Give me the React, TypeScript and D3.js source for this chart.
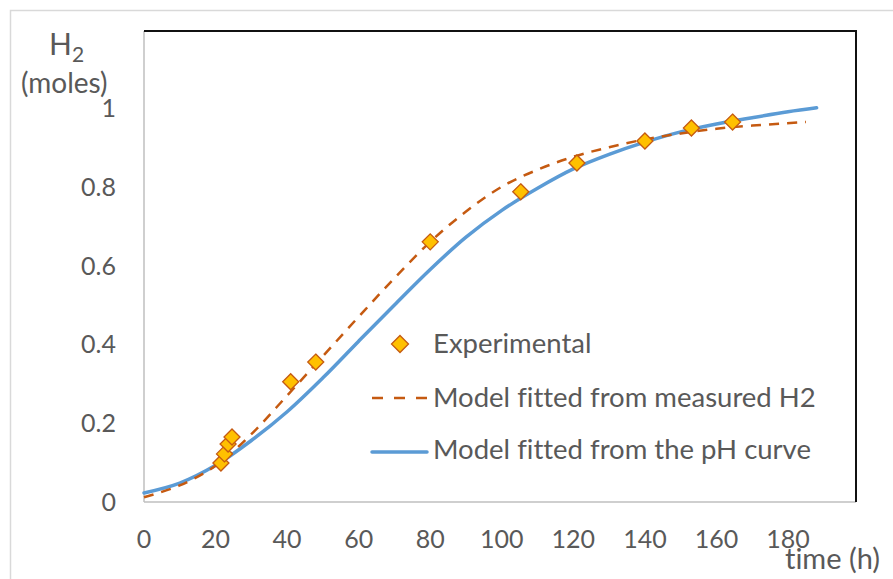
import React from "react";
import * as d3 from "d3";

const expTime = [21.5, 22.5, 23.5, 24.6, 41, 48, 80, 105.3, 121, 140, 153, 164.5];
const expH2 = [0.099, 0.122, 0.147, 0.165, 0.305, 0.355, 0.66, 0.787, 0.86, 0.916, 0.949, 0.964];

// model fitted from measured H2 (dashed)
const h2Time = [0, 10, 20, 30, 40, 50, 60, 70, 80, 90, 100, 110, 120, 130, 140, 150, 160, 170, 185];
const h2Model = [0.012, 0.042, 0.092, 0.172, 0.27, 0.37, 0.47, 0.568, 0.66, 0.737, 0.8, 0.843, 0.876, 0.9, 0.92, 0.935, 0.947, 0.955, 0.964];

// model fitted from the pH curve (solid)
const phTime = [0, 10, 20, 30, 40, 50, 60, 70, 80, 90, 100, 110, 120, 130, 140, 150, 160, 170, 180, 188];
const phModel = [0.023, 0.048, 0.093, 0.156, 0.229, 0.315, 0.408, 0.5, 0.59, 0.672, 0.74, 0.796, 0.845, 0.882, 0.913, 0.939, 0.959, 0.975, 0.99, 1.0];

const xTicks = [0, 20, 40, 60, 80, 100, 120, 140, 160, 180];
const yTicks = [0, 0.2, 0.4, 0.6, 0.8, 1];

const W = 893;
const H = 579;
const plot = { left: 144, right: 856, top: 31, bottom: 502 };

const FONT = "Lato, 'Open Sans', sans-serif";
const TEXT = "#595959";
const ORANGE = "#C55A11";
const BLUE = "#5B9BD5";
const GOLD = "#FFC000";

const diamond = (cx: number, cy: number, r: number) =>
  `M${cx},${cy - r}L${cx + r},${cy}L${cx},${cy + r}L${cx - r},${cy}Z`;

export default function App() {
  const x = d3.scaleLinear().domain([0, 199]).range([plot.left, plot.right]);
  const y = d3.scaleLinear().domain([0, 1.195]).range([plot.bottom, plot.top]);

  const line = d3
    .line<[number, number]>()
    .x((d) => x(d[0]))
    .y((d) => y(d[1]))
    .curve(d3.curveCatmullRom.alpha(0.5));

  const h2Path = line(h2Time.map((t, i) => [t, h2Model[i]]));
  const phPath = line(phTime.map((t, i) => [t, phModel[i]]));

  return (
    <svg
      width={W}
      height={H}
      style={{ position: "absolute", left: 0, top: 0, background: "#fff", fontVariantLigatures: "none" }}
      fontFamily={FONT}
    >
      <rect x={10.5} y={10.5} width={W + 10} height={H + 10} fill="none" stroke="#d9d9d9" strokeWidth={1.5} />

      {/* plot frame: gray left/bottom, black top/right */}
      <line x1={plot.left} x2={plot.left} y1={plot.top} y2={plot.bottom} stroke="#bfbfbf" strokeWidth={1.5} />
      <line x1={plot.left} x2={plot.right} y1={plot.bottom} y2={plot.bottom} stroke="#bfbfbf" strokeWidth={1.5} />
      <line x1={plot.left} x2={plot.right + 1} y1={plot.top} y2={plot.top} stroke="#111" strokeWidth={2} />
      <line x1={plot.right} x2={plot.right} y1={plot.top} y2={plot.bottom} stroke="#111" strokeWidth={2} />

      {yTicks.map((v) => (
        <text key={"y" + v} x={116} y={y(v)} dy="0.36em" textAnchor="end" fontSize={25} fill={TEXT}>
          {v}
        </text>
      ))}
      {xTicks.map((v) => (
        <text key={"x" + v} x={x(v)} y={548} textAnchor="middle" fontSize={25} fill={TEXT}>
          {v}
        </text>
      ))}

      <text x={49} y={55} fontSize={30} fill={TEXT}>
        H<tspan fontSize={21} dy={7}>2</tspan>
      </text>
      <text x={21} y={93} fontSize={28} fill={TEXT}>
        (moles)
      </text>
      <text x={785} y={569} fontSize={29} fill={TEXT}>
        time (h)
      </text>

      <path d={phPath ?? ""} fill="none" stroke={BLUE} strokeWidth={3.5} strokeLinecap="round" />
      <path d={h2Path ?? ""} fill="none" stroke={ORANGE} strokeWidth={2.5} strokeDasharray="10 8" />

      {expTime.map((t, i) => (
        <path key={"p" + i} d={diamond(x(t), y(expH2[i]), 8)} fill={GOLD} stroke={ORANGE} strokeWidth={1.3} />
      ))}

      {/* legend */}
      <path d={diamond(400, 344, 8.5)} fill={GOLD} stroke={ORANGE} strokeWidth={1.3} />
      <text x={433} y={353} fontSize={27.5} fill={TEXT}>
        Experimental
      </text>
      <line x1={372} x2={427} y1={398} y2={398} stroke={ORANGE} strokeWidth={2.5} strokeDasharray="11 11" />
      <text x={433} y={407} fontSize={27.5} fill={TEXT}>
        Model fitted from measured H2
      </text>
      <line x1={372} x2={427} y1={452} y2={452} stroke={BLUE} strokeWidth={3.5} strokeLinecap="round" />
      <text x={433} y={459} fontSize={27.5} fill={TEXT}>
        Model fitted from the pH curve
      </text>
    </svg>
  );
}
